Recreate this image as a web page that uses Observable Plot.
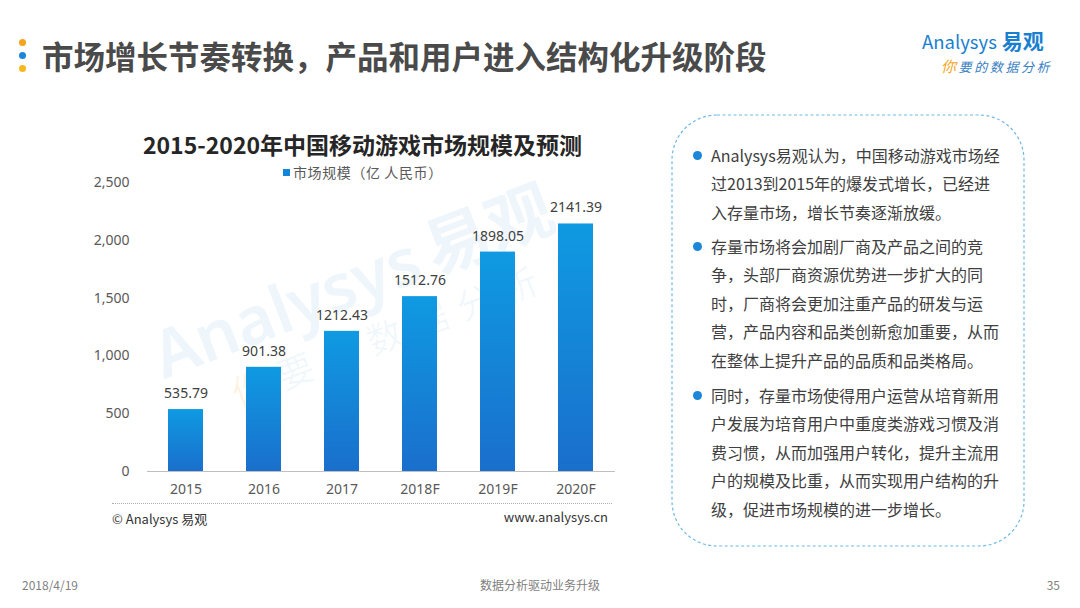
<!DOCTYPE html>
<html>
<head>
<meta charset="utf-8">
<script src="https://cdn.jsdelivr.net/npm/d3@7"></script>
<script src="https://cdn.jsdelivr.net/npm/@observablehq/plot@0.6"></script>
<style>
  html, body { margin: 0; padding: 0; background: #fff; }
  body { width: 1080px; height: 608px; position: relative; overflow: hidden; font-family: "Noto Sans CJK SC", "Noto Sans", sans-serif; }
  .abs { position: absolute; white-space: nowrap; }
  .dot { position: absolute; width: 7px; height: 7px; border-radius: 50%; }
  #title { left: 42px; top: 34px; font-size: 31.5px; font-weight: bold; color: #4a4a4a; line-height: 42px; }
  #logo1 { left: 922px; top: 27px; font-size: 18.5px; color: #1a7fd0; line-height: 26px; }
  #logo1 b { font-size: 21px; margin-left: 5px; }
  #logo2 { left: 941px; top: 56px; font-size: 13px; color: #3a7fc4; font-style: italic; letter-spacing: 2.6px; line-height: 20px; }
  #logo2 span { color: #f5a623; font-size: 15px; }
  #ctitle { left: 0; width: 725px; text-align: center; top: 128px; font-size: 23px; font-weight: bold; color: #262626; line-height: 32px; }
  #legend { left: 283px; top: 162px; font-size: 14px; color: #595959; line-height: 20px; letter-spacing: 0.6px; }
  #legend i { display: inline-block; width: 7px; height: 7px; background: #1386d8; margin-right: 3px; vertical-align: 2px; }
  #chart { position: absolute; left: 80px; top: 160px; }
  #srcline { position: absolute; left: 112px; top: 503px; width: 500px; border-top: 1px dotted #b0b0b0; }
  #src1 { left: 112px; top: 509px; font-size: 13px; color: #333; line-height: 20px; }
  #src2 { left: 480px; width: 128px; text-align: right; top: 507px; font-size: 13px; color: #333; line-height: 20px; }
  #box { position: absolute; left: 671px; top: 114px; }
  .para { position: absolute; left: 711px; font-size: 16px; line-height: 28.4px; color: #404040; white-space: nowrap; }
  .bul { position: absolute; left: 693px; width: 9px; height: 9px; border-radius: 50%; background: #1c86d8; }
  .foot { position: absolute; top: 576px; font-size: 12px; color: #7f7f7f; font-family: "Liberation Sans Narrow", "Noto Sans CJK SC", sans-serif; line-height: 18px; }
  #wm { position: absolute; left: 140px; top: 318px; font-size: 66px; color: rgba(30,140,220,0.075); transform: rotate(-21deg); transform-origin: left top; font-family: "Noto Sans", "Noto Sans CJK SC", sans-serif; font-weight: 600; white-space: nowrap; line-height: 80px; }
  #wm2 { position: absolute; left: 225px; top: 372px; font-size: 36px; color: rgba(30,140,220,0.06); transform: rotate(-21deg); transform-origin: left top; white-space: nowrap; letter-spacing: 12px; line-height: 44px; }
  #wm2 span { color: rgba(245,166,35,0.12); }
</style>
</head>
<body>
<div class="dot" style="left:19px;top:39px;background:#f5a31a"></div>
<div class="dot" style="left:19px;top:52px;background:#1c86d8"></div>
<div class="dot" style="left:19px;top:65px;background:#f8b81c"></div>
<div id="title" class="abs">市场增长节奏转换，产品和用户进入结构化升级阶段</div>
<div id="logo1" class="abs">Analysys<b>易观</b></div>
<div id="logo2" class="abs"><span>你</span>要的数据分析</div>

<div id="wm">Analysys<span style="margin-left:10px">易观</span></div>
<div id="wm2"><span>你</span>要的数据分析</div>

<div id="ctitle" class="abs">2015-2020年中国移动游戏市场规模及预测</div>
<div id="legend" class="abs"><i></i>市场规模（亿 人民币）</div>
<div id="chart"></div>
<div id="srcline"></div>
<div id="src1" class="abs">© Analysys 易观</div>
<div id="src2" class="abs">www.analysys.cn</div>

<svg id="box" width="354" height="433"><rect x="1" y="1" width="352" height="431" rx="45" ry="45" fill="none" stroke="#6fb9e6" stroke-width="1.2" stroke-dasharray="3 2.5"/></svg>

<div class="bul" style="top:151px"></div>
<div class="para" style="top:141px">Analysys易观认为，中国移动游戏市场经<br>过2013到2015年的爆发式增长，已经进<br>入存量市场，增长节奏逐渐放缓。</div>
<div class="bul" style="top:242px"></div>
<div class="para" style="top:232px">存量市场将会加剧厂商及产品之间的竞<br>争，头部厂商资源优势进一步扩大的同<br>时，厂商将会更加注重产品的研发与运<br>营，产品内容和品类创新愈加重要，从而<br>在整体上提升产品的品质和品类格局。</div>
<div class="bul" style="top:391px"></div>
<div class="para" style="top:381px">同时，存量市场使得用户运营从培育新用<br>户发展为培育用户中重度类游戏习惯及消<br>费习惯，从而加强用户转化，提升主流用<br>户的规模及比重，从而实现用户结构的升<br>级，促进市场规模的进一步增长。</div>

<div class="foot" style="left:22px">2018/4/19</div>
<div class="foot" style="left:440px;width:200px;text-align:center">数据分析驱动业务升级</div>
<div class="foot" style="left:1000px;width:60px;text-align:right">35</div>

<script>
const years = ["2015", "2016", "2017", "2018F", "2019F", "2020F"];
const marketSize = [535.79, 901.38, 1212.43, 1512.76, 1898.05, 2141.39];
const yTicks = [0, 500, 1000, 1500, 2000, 2500];

const data = years.map((y, i) => ({year: y, value: marketSize[i]}));

const plot = Plot.plot({
  width: 545,
  height: 345,
  marginTop: 22,
  marginBottom: 34,
  marginLeft: 67,
  marginRight: 10,
  style: {fontSize: "14px", fontFamily: "'Noto Sans', 'Open Sans', sans-serif", color: "#595959", background: "transparent"},
  x: {domain: years, paddingInner: 0.55, paddingOuter: 0.275, label: null},
  y: {domain: [0, 2500], label: null},
  marks: [
    Plot.axisY({ticks: yTicks, tickSize: 0, tickPadding: 18, tickFormat: d3.format(","), label: null}),
    Plot.axisX({tickSize: 0, tickPadding: 13, label: null}),
    Plot.barY(data, {x: "year", y: "value", fill: "#1386d8"}),
    Plot.ruleY([0], {stroke: "#bfbfbf", strokeWidth: 1}),
    Plot.text(data, {x: "year", y: "value", text: d => d.value.toFixed(2), dy: -16, lineAnchor: "middle", fill: "#404040", fontSize: 14})
  ]
});

const svg = d3.select(plot);
const defs = svg.insert("defs", ":first-child");
const grad = defs.append("linearGradient").attr("id", "barGrad").attr("x1", 0).attr("y1", 0).attr("x2", 0).attr("y2", 1);
grad.append("stop").attr("offset", "0%").attr("stop-color", "#0f9ae2");
grad.append("stop").attr("offset", "100%").attr("stop-color", "#1a6fcc");
svg.selectAll("g[aria-label='bar']").attr("fill", "url(#barGrad)");
svg.selectAll("g[aria-label='bar'] rect").attr("fill", "url(#barGrad)");

document.getElementById("chart").appendChild(plot);
</script>
</body>
</html>
